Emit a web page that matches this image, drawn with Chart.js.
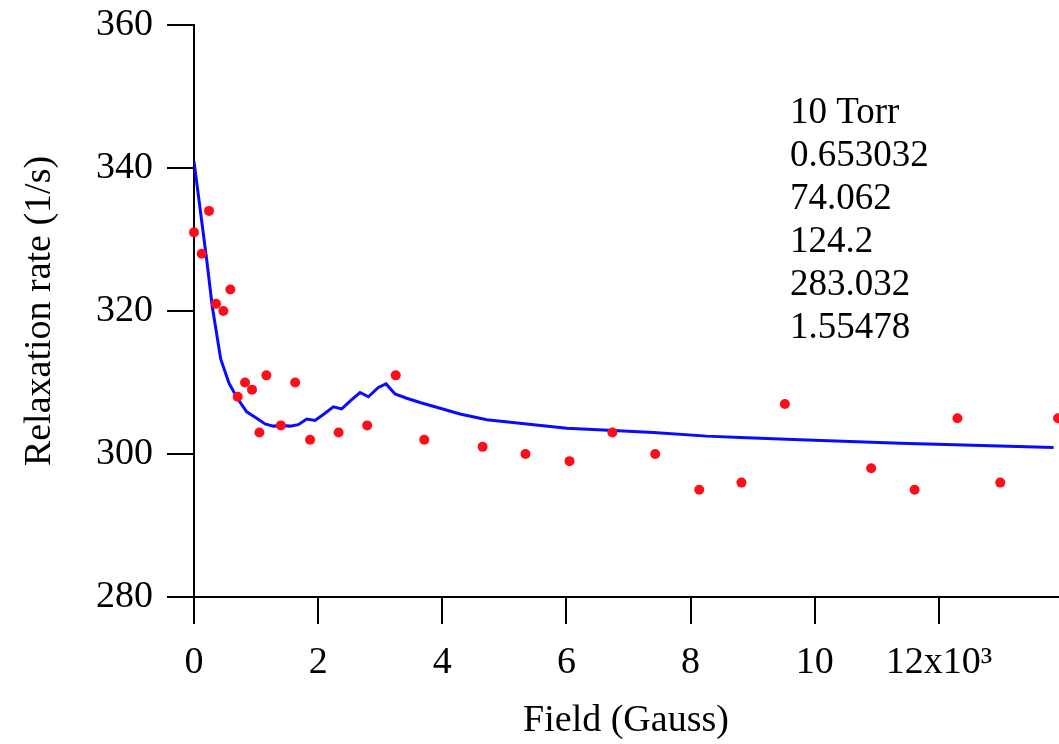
<!DOCTYPE html>
<html>
<head>
<meta charset="utf-8">
<script src="https://cdn.jsdelivr.net/npm/chart.js@4.4.1/dist/chart.umd.min.js"></script>
<style>
  html, body { margin: 0; padding: 0; background: #fff; }
  #wrap { width: 1059px; height: 744px; position: relative; }
</style>
</head>
<body>
<div id="wrap"><canvas id="relaxChart"></canvas></div>
<script>
  // measured points (field in Gauss, rate in 1/s)
  const fieldPts = [0, 124, 242, 355, 473, 586, 704, 822, 935, 1053, 1166, 1400, 1630, 1870,
    2330, 2790, 3250, 3710, 4650, 5340, 6050, 6740, 7430, 8140, 8820, 9520, 10910, 11610,
    12300, 12990, 13920];
  const ratePts = [331, 328, 334, 321, 320, 323, 308, 310, 309, 303, 311, 304, 310, 302,
    303, 304, 311, 302, 301, 300, 299, 303, 300, 295, 296, 307, 298, 295,
    305, 296, 305];

  // fitted curve
  const fitField = [0, 204, 295, 430, 564, 698, 849, 1010, 1144, 1278, 1413, 1547, 1681, 1816,
    1950, 2111, 2245, 2380, 2514, 2675, 2810, 2970, 3094, 3239, 3427, 3642, 3965, 4287,
    4717, 5361, 6006, 6758, 7403, 8262, 8800, 9766, 11378, 13849];
  const fitRate = [340.9, 327.2, 320.6, 313.3, 309.9, 307.8, 305.9, 305.0, 304.2, 303.9, 304.0,
    303.9, 304.1, 304.9, 304.7, 305.7, 306.6, 306.3, 307.4, 308.6, 308.0, 309.3, 309.8,
    308.4, 307.8, 307.2, 306.4, 305.6, 304.8, 304.2, 303.6, 303.3, 303.0, 302.5, 302.3,
    302.0, 301.5, 300.9];

  const xTicks = [0, 2000, 4000, 6000, 8000, 10000, 12000];
  const xTickLabels = ['0', '2', '4', '6', '8', '10', '12x10\u00B3'];
  const yTicks = [280, 300, 320, 340, 360];

  const noteLines = ['10 Torr', '0.653032', '74.062', '124.2', '283.032', '1.55478'];

  const FONT = "'Liberation Serif', 'Times New Roman', serif";

  const notePlugin = {
    id: 'note',
    afterDraw(chart) {
      const ctx = chart.ctx;
      ctx.save();
      ctx.fillStyle = '#000';
      ctx.font = '37px ' + FONT;
      ctx.textAlign = 'left';
      ctx.textBaseline = 'alphabetic';
      noteLines.forEach(function (t, i) {
        ctx.fillText(t, 790, 123 + i * 43);
      });
      ctx.restore();
    }
  };

  const ptsData = fieldPts.map(function (x, i) { return { x: x, y: ratePts[i] }; });
  const fitData = fitField.map(function (x, i) { return { x: x, y: fitRate[i] }; });

  new Chart(document.getElementById('relaxChart'), {
    type: 'scatter',
    data: {
      datasets: [{
        label: 'data',
        data: ptsData,
        pointRadius: 5,
        pointHoverRadius: 5,
        pointBackgroundColor: '#ff0d1a',
        pointBorderWidth: 0,
        showLine: false,
        clip: false,
      }, {
        label: 'fit',
        data: fitData,
        showLine: true,
        borderColor: '#0a0aff',
        borderWidth: 3,
        pointRadius: 0,
        tension: 0,
      }],
    },
    options: {
      responsive: true,
      maintainAspectRatio: false,
      animation: false,
      layout: { autoPadding: false, padding: { top: 25, right: 1, bottom: 0, left: 0 } },
      plugins: { legend: { display: false }, tooltip: { enabled: false } },
      scales: {
        x: {
          type: 'linear',
          min: 0,
          max: 13920,
          afterBuildTicks: function (s) { s.ticks = xTicks.map(function (v) { return { value: v }; }); },
          afterFit: function (s) {
            s.height = 147;
            s.paddingLeft = 0;
            s.paddingRight = 0;
          },
          ticks: {
            color: '#000',
            font: { family: FONT, size: 38 },
            padding: 16,
            maxRotation: 0,
            autoSkip: false,
            callback: function (v) { return xTickLabels[xTicks.indexOf(v)]; },
          },
          grid: { drawOnChartArea: false, tickLength: 27, color: '#000', lineWidth: 2 },
          border: { color: '#000', width: 2 },
          title: {
            display: true,
            text: 'Field (Gauss)',
            color: '#000',
            font: { family: FONT, size: 38 },
            padding: { top: 0, bottom: 0 },
          },
        },
        y: {
          min: 280,
          max: 360,
          afterBuildTicks: function (s) { s.ticks = yTicks.map(function (v) { return { value: v }; }); },
          afterFit: function (s) {
            s.width = 194;
            s.paddingTop = 0;
            s.paddingBottom = 0;
          },
          ticks: {
            color: '#000',
            font: { family: FONT, size: 38 },
            padding: 14,
          },
          grid: { drawOnChartArea: false, tickLength: 27, color: '#000', lineWidth: 2 },
          border: { color: '#000', width: 2 },
          title: {
            display: true,
            text: 'Relaxation rate (1/s)',
            color: '#000',
            font: { family: FONT, size: 38 },
            padding: { top: 17, bottom: 0 },
          },
        },
      },
    },
    plugins: [notePlugin],
  });
</script>
</body>
</html>
